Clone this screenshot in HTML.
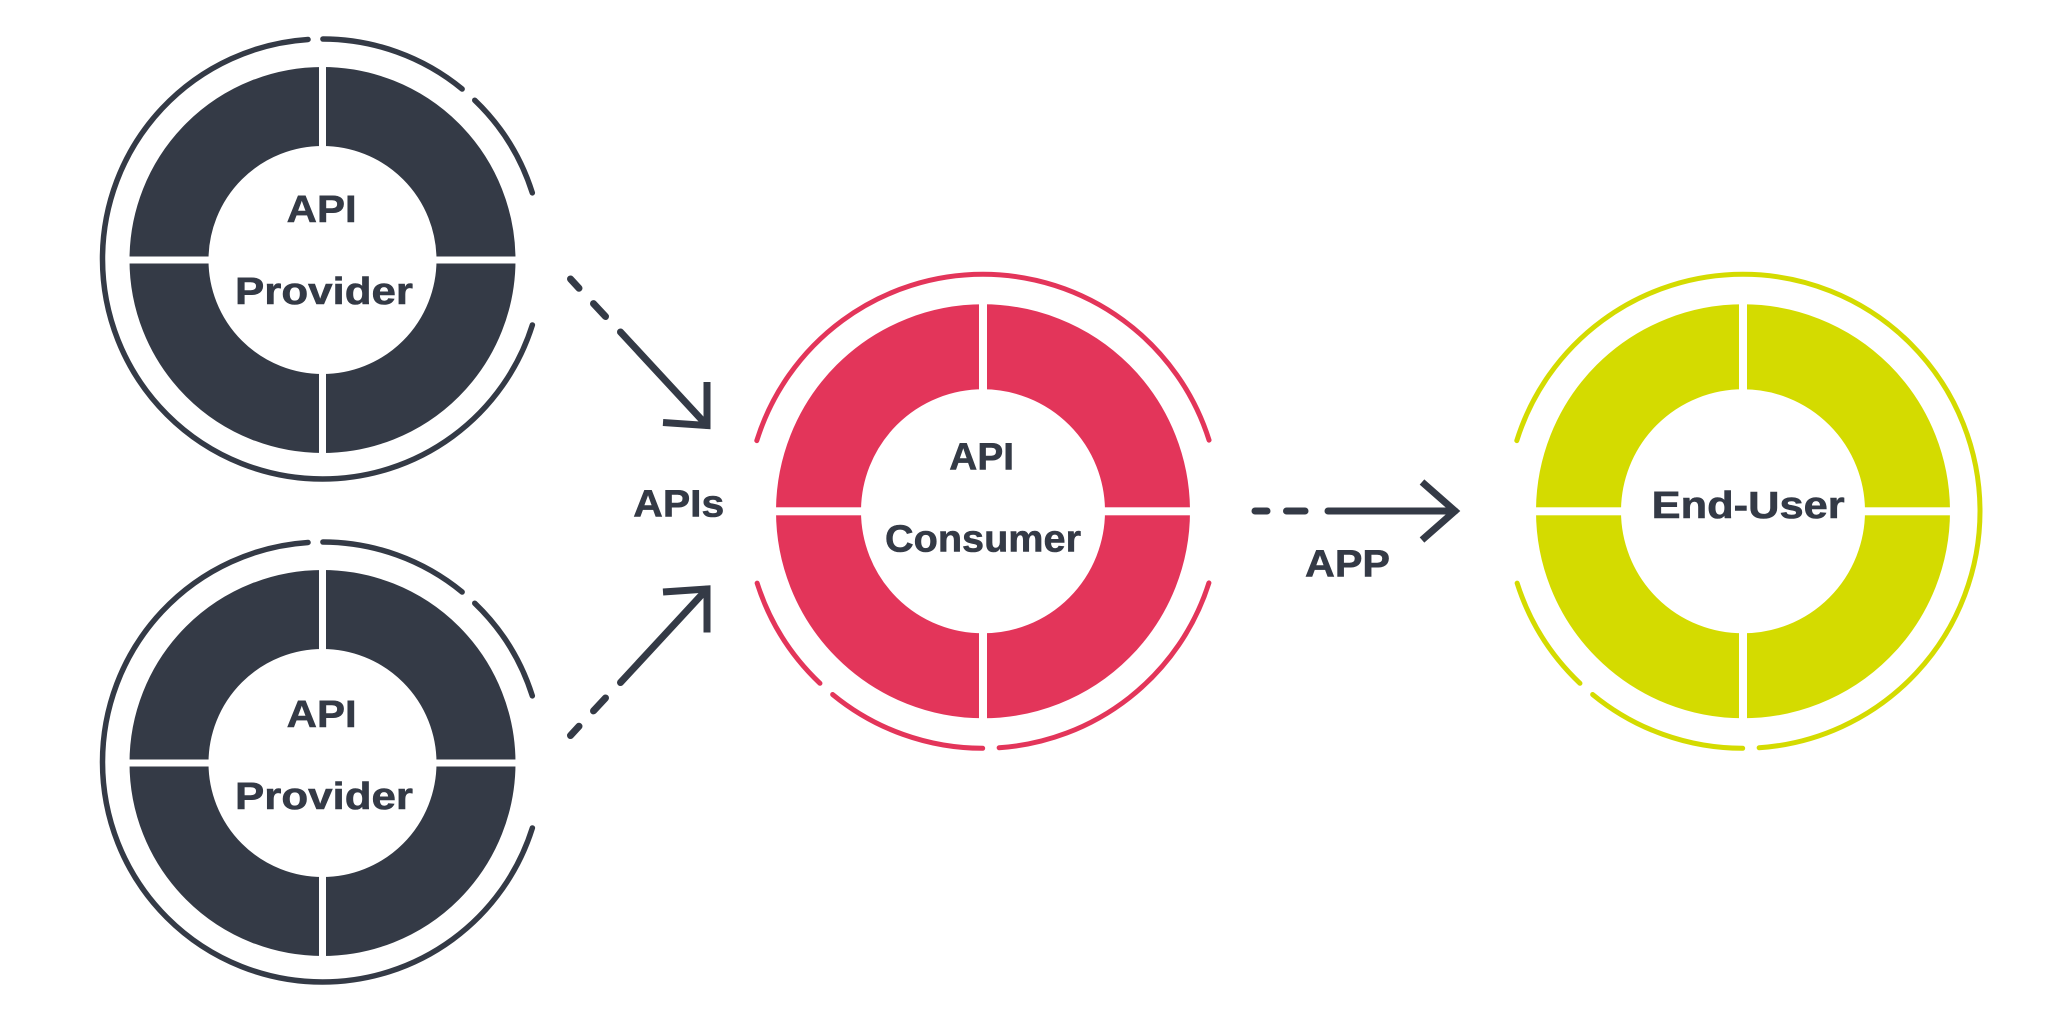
<!DOCTYPE html>
<html>
<head>
<meta charset="utf-8">
<style>
  html,body{margin:0;padding:0;background:#fff;}
  svg{display:block;}
  .t{font-family:"Liberation Sans",Arial,sans-serif;font-weight:bold;font-size:38px;fill:#343a46;stroke:#343a46;stroke-width:0.6px;}
</style>
</head>
<body>
<svg width="2048" height="1024" viewBox="0 0 2048 1024" xmlns="http://www.w3.org/2000/svg">
  <rect width="2048" height="1024" fill="#ffffff"/>

  <!-- ===== Top API Provider ===== -->
  <circle cx="322.5" cy="260" r="153.5" fill="none" stroke="#343a46" stroke-width="79"/>
  <rect x="319" y="64" width="7" height="392" fill="#fff"/>
  <rect x="127" y="256.5" width="391" height="7" fill="#fff"/>
  <circle cx="322.5" cy="259" r="220" fill="none" stroke="#343a46" stroke-width="5.5" pathLength="360"
          stroke-dasharray="248.8 3.9 39.3 4.4 28.7 34.9" stroke-dashoffset="342.55" stroke-linecap="round"/>
  <text class="t" x="286.7" y="222" textLength="70" lengthAdjust="spacingAndGlyphs">API</text>
  <text class="t" x="235" y="304" textLength="178" lengthAdjust="spacingAndGlyphs">Provider</text>

  <!-- ===== Bottom API Provider ===== -->
  <circle cx="322.5" cy="763" r="153.5" fill="none" stroke="#343a46" stroke-width="79"/>
  <rect x="319" y="567" width="7" height="392" fill="#fff"/>
  <rect x="127" y="759.5" width="391" height="7" fill="#fff"/>
  <circle cx="322.5" cy="762" r="220" fill="none" stroke="#343a46" stroke-width="5.5" pathLength="360"
          stroke-dasharray="248.8 3.9 39.3 4.4 28.7 34.9" stroke-dashoffset="342.55" stroke-linecap="round"/>
  <text class="t" x="286.7" y="727" textLength="70" lengthAdjust="spacingAndGlyphs">API</text>
  <text class="t" x="235" y="809" textLength="178" lengthAdjust="spacingAndGlyphs">Provider</text>

  <!-- ===== Upper arrow ===== -->
  <g stroke="#343a46" stroke-width="7" fill="none">
    <line x1="570.5" y1="279" x2="579" y2="288.2" stroke-linecap="round"/>
    <line x1="593.5" y1="303.6" x2="605.5" y2="316.5" stroke-linecap="round"/>
    <line x1="620.5" y1="332" x2="707" y2="425.5" stroke-linecap="round"/>
    <polyline points="663,422.5 707,425.5 707,382" stroke-linejoin="miter" stroke-linecap="butt"/>
  </g>

  <!-- ===== Lower arrow (mirrored) ===== -->
  <g stroke="#343a46" stroke-width="7" fill="none" transform="translate(0,1014.5) scale(1,-1)">
    <line x1="570.5" y1="279" x2="579" y2="288.2" stroke-linecap="round"/>
    <line x1="593.5" y1="303.6" x2="605.5" y2="316.5" stroke-linecap="round"/>
    <line x1="620.5" y1="332" x2="707" y2="425.5" stroke-linecap="round"/>
    <polyline points="663,422.5 707,425.5 707,382" stroke-linejoin="miter" stroke-linecap="butt"/>
  </g>

  <text class="t" x="633.3" y="516.7" textLength="91" lengthAdjust="spacingAndGlyphs">APIs</text>

  <!-- ===== API Consumer ===== -->
  <circle cx="983" cy="511.3" r="164.5" fill="none" stroke="#e3355a" stroke-width="85"/>
  <rect x="979" y="301" width="8" height="421" fill="#fff"/>
  <rect x="773" y="507.3" width="420" height="8" fill="#fff"/>
  <circle cx="983" cy="511.3" r="237" fill="none" stroke="#e3355a" stroke-width="5" pathLength="360"
          stroke-dasharray="68.5 4 39.3 4.1 28.9 35 145.2 35" stroke-dashoffset="342.4" stroke-linecap="round"/>
  <text class="t" x="949.3" y="469.5" textLength="64.7" lengthAdjust="spacingAndGlyphs">API</text>
  <text class="t" x="885" y="551.5" textLength="196" lengthAdjust="spacingAndGlyphs">Consumer</text>

  <!-- ===== APP arrow ===== -->
  <g stroke="#343a46" stroke-width="7" fill="none">
    <line x1="1255" y1="511" x2="1267" y2="511" stroke-linecap="round"/>
    <line x1="1286.5" y1="511" x2="1305" y2="511" stroke-linecap="round"/>
    <line x1="1328" y1="511" x2="1455" y2="511" stroke-linecap="round"/>
    <polyline points="1422,482 1455,511 1422,540" stroke-linejoin="miter" stroke-linecap="butt"/>
  </g>
  <text class="t" x="1305" y="576.7" textLength="85" lengthAdjust="spacingAndGlyphs">APP</text>

  <!-- ===== End-User ===== -->
  <circle cx="1743" cy="511.3" r="164.5" fill="none" stroke="#d4db00" stroke-width="85"/>
  <rect x="1739" y="301" width="8" height="421" fill="#fff"/>
  <rect x="1533" y="507.3" width="420" height="8" fill="#fff"/>
  <circle cx="1743" cy="511.3" r="237" fill="none" stroke="#d4db00" stroke-width="5" pathLength="360"
          stroke-dasharray="248.7 4 39.3 4.1 28.9 35" stroke-dashoffset="162.6" stroke-linecap="round"/>
  <text class="t" x="1651.7" y="518" textLength="193" lengthAdjust="spacingAndGlyphs">End-User</text>
</svg>
</body>
</html>
